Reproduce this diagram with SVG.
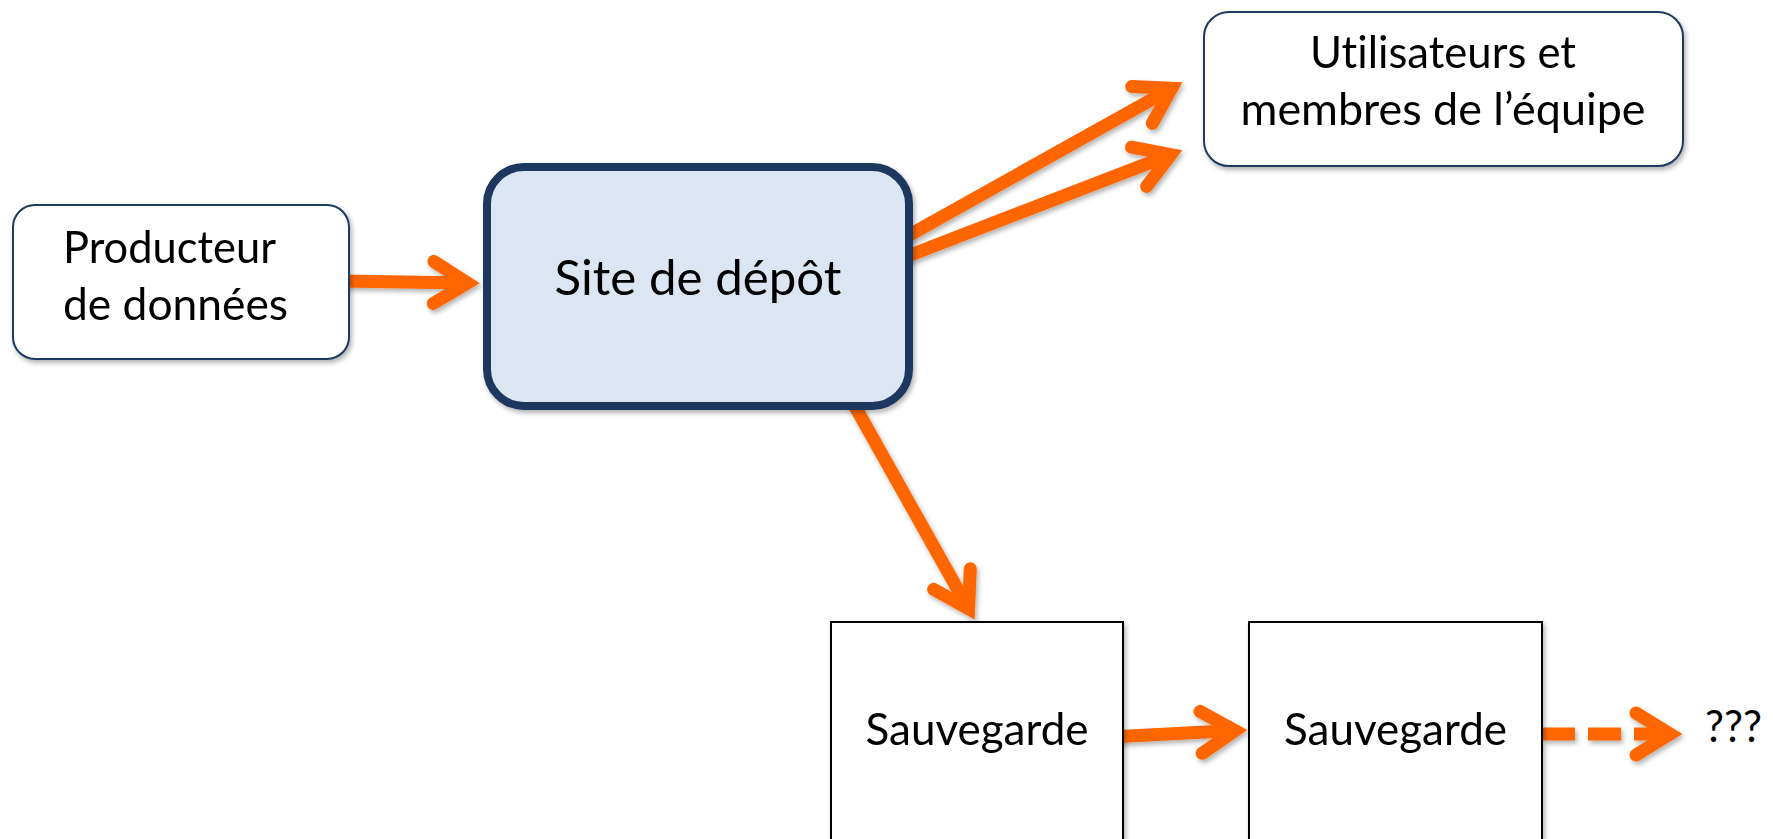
<svg xmlns="http://www.w3.org/2000/svg" width="1773" height="839" viewBox="0 0 1773 839">
  <style>
    .lbl { font-family: "Lato", "Open Sans", "Liberation Sans", sans-serif; font-size: 44px; fill: #000; font-variant-ligatures: none; font-feature-settings: "liga" 0, "clig" 0; }
    .big { font-size: 49px; }
    .rbox { fill: #fff; stroke: #1F3A60; stroke-width: 2; }
    .sbox { fill: #fff; stroke: #000; stroke-width: 2; }
    .conn { fill: none; stroke: #FF6600; stroke-width: 13; stroke-linecap: butt; marker-end: url(#ah); }
    .dash { stroke-dasharray: 33 13; }
  </style>
  <defs>
    <filter id="sh" x="-20%" y="-20%" width="140%" height="140%">
      <feDropShadow dx="2" dy="3" stdDeviation="2.5" flood-color="#000" flood-opacity="0.3"/>
    </filter>
    <marker id="ah" markerUnits="userSpaceOnUse" markerWidth="100" markerHeight="100" viewBox="-50 -50 100 100" refX="0" refY="0" orient="auto" overflow="visible">
      <path d="M-34,-21 L0,0 L-34,21" fill="none" stroke="#FF6600" stroke-width="13" stroke-linecap="round" stroke-linejoin="miter"/>
    </marker>
  </defs>

  <g id="connectors" filter="url(#sh)">
    <path class="conn" d="M340,281 L467.5,283"/>
    <path class="conn" d="M880,251.5 L1171.7,88.3"/>
    <path class="conn" d="M880,266.7 L1170.8,154.6"/>
    <path class="conn" d="M848.6,395 L968.6,608.7"/>
    <path class="conn" d="M1110,737 L1235,730.6"/>
    <path class="conn dash" d="M1542,734 L1670,734"/>
  </g>

  <g id="producteur" filter="url(#sh)">
    <rect class="rbox" x="13" y="205" width="336" height="154" rx="22"/>
    <text class="lbl" x="63" y="263" textLength="213" lengthAdjust="spacingAndGlyphs">Producteur</text>
    <text class="lbl" x="63" y="320" textLength="225" lengthAdjust="spacingAndGlyphs">de données</text>
  </g>

  <g id="site" filter="url(#sh)">
    <rect x="487" y="167" width="422" height="239" rx="37" fill="#DCE6F2" stroke="#1B375E" stroke-width="8"/>
    <text class="lbl big" x="698" y="295" text-anchor="middle" textLength="287" lengthAdjust="spacingAndGlyphs">Site de dépôt</text>
  </g>

  <g id="utilisateurs" filter="url(#sh)">
    <rect class="rbox" x="1204" y="12" width="479" height="154" rx="25"/>
    <text class="lbl" x="1443" y="68" text-anchor="middle" textLength="266" lengthAdjust="spacingAndGlyphs">Utilisateurs et</text>
    <text class="lbl" x="1443" y="125" text-anchor="middle" textLength="405" lengthAdjust="spacingAndGlyphs">membres de l’équipe</text>
  </g>

  <g id="sauvegarde1" filter="url(#sh)">
    <rect class="sbox" x="831" y="622" width="292" height="240"/>
    <text class="lbl" x="977" y="745" text-anchor="middle" textLength="223" lengthAdjust="spacingAndGlyphs">Sauvegarde</text>
  </g>

  <g id="sauvegarde2" filter="url(#sh)">
    <rect class="sbox" x="1249" y="622" width="293" height="240"/>
    <text class="lbl" x="1395.5" y="745" text-anchor="middle" textLength="223" lengthAdjust="spacingAndGlyphs">Sauvegarde</text>
  </g>

  <g id="unknown">
    <text class="lbl" x="1705" y="742" textLength="57" lengthAdjust="spacingAndGlyphs">???</text>
  </g>
</svg>
